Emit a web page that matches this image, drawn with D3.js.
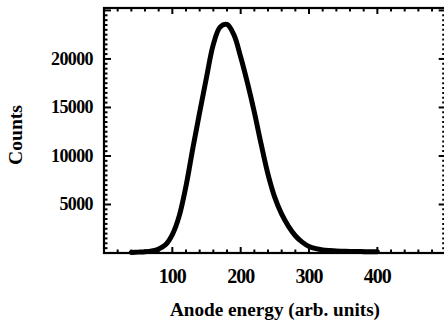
<!DOCTYPE html>
<html>
<head>
<meta charset="utf-8">
<script src="https://cdn.jsdelivr.net/npm/d3@7"></script>
<style>
html,body{margin:0;padding:0;background:#fff;}
svg{display:block;}
text{font-family:"Liberation Serif","DejaVu Serif",serif;font-weight:bold;fill:#000;}
</style>
</head>
<body>
<svg id="chart" width="444" height="329"></svg>
<script>
// Data
const energy = [40,50,60,70,80,90,100,110,120,130,140,150,160,170,180,190,200,210,220,230,240,250,260,270,280,290,300,310,320,330,340,350,360,370,380,390,400];
const counts = [60,90,130,220,420,850,1900,3800,6900,10800,14500,18100,21500,23300,23550,22500,20200,17500,14500,11200,8100,5700,4000,2750,1780,1120,680,450,320,250,200,180,160,150,140,130,120];
const xTicks = [100,200,300,400];
const yTicks = [5000,10000,15000,20000];
const xLabel = "Anode energy (arb. units)";
const yLabel = "Counts";

(function(){
const svg = d3.select("#chart");
const pL = 104, pR = 445.7, pT = 8, pB = 253;
const x = d3.scaleLinear().domain([0,500]).range([pL,pR]);
const y = d3.scaleLinear().domain([0,25250]).range([pB,pT]);

const xMinor = d3.range(0,501,20).filter(v=>v%100!==0);
const xMajor = d3.range(0,501,100);
const yMinor = d3.range(0,25001,500).filter(v=>v%5000!==0);
const yMajor = d3.range(0,25001,5000);

const g = svg.append("g");
function vt(data, y0, y1){
  g.append("g").selectAll("line").data(data).join("line")
   .attr("x1",d=>x(d)).attr("x2",d=>x(d)).attr("y1",y0).attr("y2",y1)
   .attr("stroke","#000").attr("stroke-width",2);
}
function ht(data, x0, x1){
  g.append("g").selectAll("line").data(data).join("line")
   .attr("y1",d=>y(d)).attr("y2",d=>y(d)).attr("x1",x0).attr("x2",x1)
   .attr("stroke","#000").attr("stroke-width",2);
}
vt(xMinor, pB, pB-3.5); vt(xMajor, pB, pB-6);
vt(xMinor, pT, pT+3.5); vt(xMajor, pT, pT+6);
ht(yMinor, pL, pL+3.5); ht(yMajor, pL, pL+7);
ht(yMinor, pR, pR-3.5); ht(yMajor, pR, pR-7);

svg.append("rect").attr("x",pL).attr("y",pT).attr("width",pR-pL).attr("height",pB-pT)
  .attr("fill","none").attr("stroke","#000").attr("stroke-width",2.2);

svg.append("g").selectAll("text").data(xTicks).join("text").attr("x",d=>x(d)).attr("y",283)
  .attr("text-anchor","middle").attr("font-size",20).attr("letter-spacing",-1).text(d=>d);
svg.append("g").selectAll("text").data(yTicks).join("text").attr("x",93).attr("y",d=>y(d)+6)
  .attr("text-anchor","end").attr("font-size",18).attr("letter-spacing",-0.6).text(d=>d);

svg.append("text").attr("x",275).attr("y",316).attr("text-anchor","middle").attr("font-size",18)
  .attr("textLength",210).attr("lengthAdjust","spacingAndGlyphs").text(xLabel);
svg.append("text").attr("transform","translate(22,135) rotate(-90)").attr("text-anchor","middle")
  .attr("font-size",18).attr("textLength",60).attr("lengthAdjust","spacingAndGlyphs").text(yLabel);

const pts = energy.map((e,i)=>[e,counts[i]]);
svg.append("path").datum(pts)
  .attr("d", d3.line().x(d=>x(d[0])).y(d=>y(d[1])).curve(d3.curveCatmullRom))
  .attr("fill","none").attr("stroke","#000").attr("stroke-width",5)
  .attr("stroke-linejoin","round").attr("stroke-linecap","round");
})();
</script>
</body>
</html>
